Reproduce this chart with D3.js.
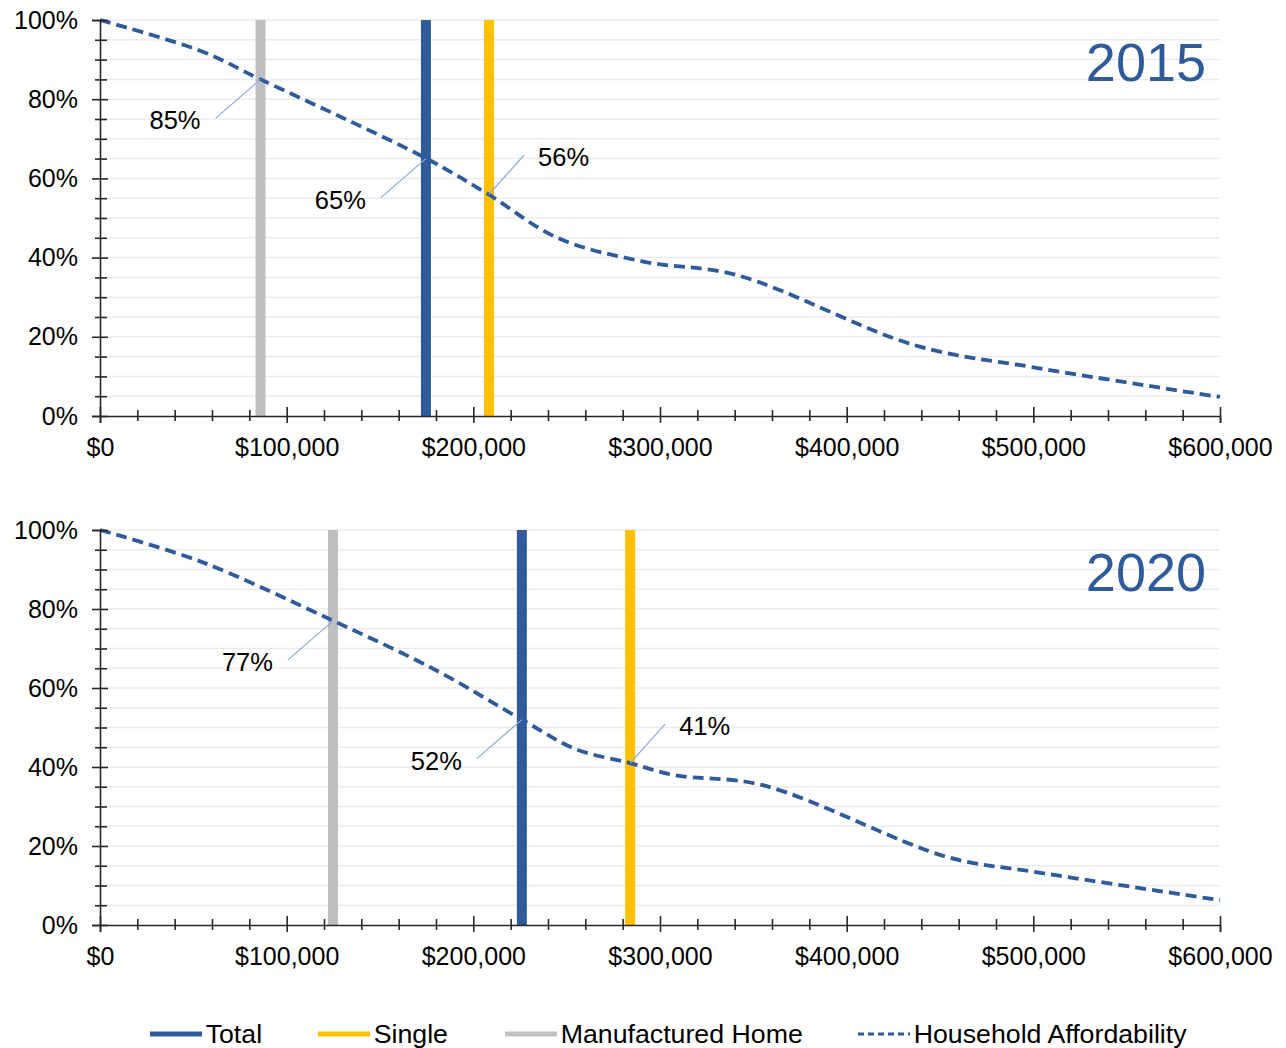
<!DOCTYPE html>
<html>
<head>
<meta charset="utf-8">
<script src="https://cdn.jsdelivr.net/npm/d3@7"></script>
<style>
  body { margin: 0; background: #fff; }
  svg { display: block; font-family: Arial, "Liberation Sans", sans-serif; }
  .axis path, .axis line { stroke: #262626; stroke-width: 1.6; }
  .axis text { fill: #000; font-size: 25px; }
</style>
</head>
<body>
<svg id="chart" width="1286" height="1048"></svg>
<script>
// Price axis (x) and share axis (y)
const priceTicks = [0, 100000, 200000, 300000, 400000, 500000, 600000];
const shareTicks = [0, 20, 40, 60, 80, 100];

const years = ["2015", "2020"];

// Household affordability curve: [home price, % of households able to afford]
const affordability2015 = [
  [0, 100], [55000, 92], [86000, 85], [130000, 75.3], [175000, 65], [208000, 56],
  [245000, 45], [291000, 39], [341000, 35.6], [437000, 17.8], [500000, 12.3], [600000, 4.8]
];
const affordability2020 = [
  [0, 100], [54000, 92], [125000, 77], [180000, 64.5], [226000, 52], [255000, 44.5],
  [284000, 41], [307000, 38], [355000, 35.4], [454000, 17.2], [500000, 13.5], [600000, 6.3]
];

// Median home price by type, and the share of households that can afford it
const homeTypes = ["Total", "Single", "Manufactured Home"];
const medianPrice2015 = [174600, 208400, 86000];
const medianPrice2020 = [226000, 284000, 124800];
const affordShare2015 = [65, 56, 85];
const affordShare2020 = [52, 41, 77];

const typeColor = { "Total": "#2F5B9B", "Single": "#FFC000", "Manufactured Home": "#BFBFBF" };
const curveColor = "#2F5B9B";

const panels = [
  { year: years[0], curve: affordability2015, price: medianPrice2015, share: affordShare2015, top: 20, height: 396 },
  { year: years[1], curve: affordability2020, price: medianPrice2020, share: affordShare2020, top: 530, height: 395 }
];

const left = 100, right = 1220;
const svg = d3.select("#chart");

const x = d3.scaleLinear().domain([0, 600000]).range([left, right]);
const fmtPrice = d => "$" + d3.format(",")(d);

/*************************/
/*  Draw one panel        */
/*************************/
const drawPanel = (p) => {

  const y = d3.scaleLinear().domain([0, 100]).range([p.top + p.height, p.top]);
  const g = svg.append("g");

  const fives = d3.range(0, 101, 5);
  const minorY = fives.filter(v => v % 20 !== 0);
  const minorX = d3.range(0, 600001, 20000).filter(v => v % 100000 !== 0);

  // gridlines
  g.append("g").selectAll("line")
    .data(fives.filter(v => v > 0))
    .join("line")
      .attr("x1", left).attr("x2", right)
      .attr("y1", d => y(d)).attr("y2", d => y(d))
      .attr("stroke", "#EBEBEB").attr("stroke-width", 1.5);

  // vertical median price lines
  const types = homeTypes.map((t, i) => ({ type: t, price: p.price[i], share: p.share[i] }));
  const drawOrder = ["Manufactured Home", "Total", "Single"];
  g.append("g").selectAll("line")
    .data(drawOrder.map(t => types.find(d => d.type === t)))
    .join("line")
      .attr("x1", d => x(d.price)).attr("x2", d => x(d.price))
      .attr("y1", y(100)).attr("y2", y(0))
      .attr("stroke", d => typeColor[d.type]).attr("stroke-width", 10);

  // affordability curve
  const line = d3.line()
    .x(d => x(d[0]))
    .y(d => y(d[1]))
    .curve(d3.curveCatmullRom.alpha(0.5));

  g.append("path")
    .datum(p.curve)
    .attr("d", line)
    .attr("fill", "none")
    .attr("stroke", curveColor)
    .attr("stroke-width", 3.8)
    .attr("stroke-dasharray", "11,6");

  // y axis
  g.append("g").attr("class", "axis")
    .attr("transform", `translate(${left},0)`)
    .call(d3.axisLeft(y).tickValues(shareTicks).tickSize(8).tickPadding(14).tickFormat(d => d + "%"));
  g.append("g").attr("class", "axis")
    .attr("transform", `translate(${left},0)`)
    .call(d3.axisRight(y).tickValues(shareTicks).tickSize(8).tickFormat(""))
    .call(a => a.select(".domain").remove());
  g.append("g").attr("class", "axis")
    .attr("transform", `translate(${left},0)`)
    .call(d3.axisLeft(y).tickValues(minorY).tickSize(5).tickFormat(""))
    .call(a => a.select(".domain").remove());
  g.append("g").attr("class", "axis")
    .attr("transform", `translate(${left},0)`)
    .call(d3.axisRight(y).tickValues(minorY).tickSize(7).tickFormat(""))
    .call(a => a.select(".domain").remove());

  // x axis
  const base = y(0);
  g.append("g").attr("class", "axis")
    .attr("transform", `translate(0,${base})`)
    .call(d3.axisBottom(x).tickValues(priceTicks).tickSize(7).tickPadding(15).tickFormat(fmtPrice));
  g.append("g").attr("class", "axis")
    .attr("transform", `translate(0,${base})`)
    .call(d3.axisTop(x).tickValues(priceTicks).tickSize(9).tickFormat(""))
    .call(a => a.select(".domain").remove());
  g.append("g").attr("class", "axis")
    .attr("transform", `translate(0,${base})`)
    .call(d3.axisBottom(x).tickValues(minorX).tickSize(5).tickFormat(""))
    .call(a => a.select(".domain").remove());
  g.append("g").attr("class", "axis")
    .attr("transform", `translate(0,${base})`)
    .call(d3.axisTop(x).tickValues(minorX).tickSize(6).tickFormat(""))
    .call(a => a.select(".domain").remove());

  // callouts
  const callouts = g.append("g").selectAll("g")
    .data(types)
    .join("g")
      .attr("transform", d => `translate(${x(d.price)},${y(d.share)})`);

  callouts.append("line")
    .attr("x1", 0).attr("y1", 0)
    .attr("x2", d => d.type === "Single" ? 35 : -45)
    .attr("y2", d => d.type === "Single" ? -39 : 39)
    .attr("stroke", "#8EA9D8").attr("stroke-width", 1.2);

  callouts.append("text")
    .attr("x", d => d.type === "Single" ? 49 : -60)
    .attr("y", d => d.type === "Single" ? -28 : 50)
    .attr("text-anchor", d => d.type === "Single" ? "start" : "end")
    .attr("font-size", 25.5)
    .attr("fill", "#000")
    .text(d => d.share + "%");

  // year label
  g.append("text")
    .attr("x", 1206).attr("y", p.top + 61)
    .attr("text-anchor", "end")
    .attr("font-size", 54)
    .attr("fill", curveColor)
    .text(p.year);

};

panels.forEach(drawPanel);

/*************/
/*  Legend   */
/*************/
const legendItems = [
  { label: homeTypes[0], color: typeColor["Total"], dash: null, x: 150 },
  { label: homeTypes[1], color: typeColor["Single"], dash: null, x: 318 },
  { label: homeTypes[2], color: typeColor["Manufactured Home"], dash: null, x: 505 },
  { label: "Household Affordability", color: curveColor, dash: "6,4", x: 858 }
];

const legend = svg.append("g").selectAll("g")
  .data(legendItems)
  .join("g")
    .attr("transform", d => `translate(${d.x},1034)`);

legend.append("line")
  .attr("x1", 0).attr("x2", 52)
  .attr("stroke", d => d.color)
  .attr("stroke-width", d => d.dash ? 3 : 5)
  .attr("stroke-dasharray", d => d.dash);

legend.append("text")
  .attr("x", 52).attr("y", 9)
  .attr("font-size", 25)
  .attr("fill", "#000")
  .attr("transform", "scale(1.07,1)")
  .text(d => d.label);
</script>
</body>
</html>
